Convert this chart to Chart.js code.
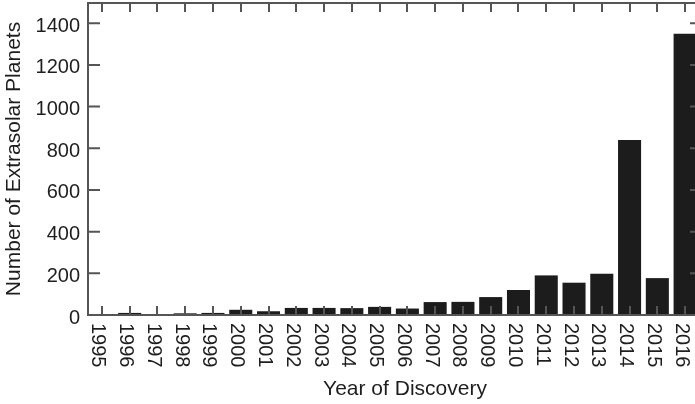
<!DOCTYPE html>
<html>
<head>
<meta charset="utf-8">
<script src="https://cdn.jsdelivr.net/npm/chart.js@4"></script>
<style>
  html, body { margin: 0; padding: 0; background: #ffffff; overflow: hidden; width: 695px; height: 404px; }
  canvas { display: block; }
</style>
</head>
<body>
<canvas id="chart" width="699" height="404"></canvas>
<script>
// Discoveries per year
const years = ['1995','1996','1997','1998','1999','2000','2001','2002','2003','2004','2005',
               '2006','2007','2008','2009','2010','2011','2012','2013','2014','2015','2016'];
const planets = [3, 10, 1, 8, 10, 25, 18, 34, 34, 33, 39,
                 31, 62, 63, 86, 120, 190, 155, 198, 840, 177, 1350];
const yTicks = [0, 200, 400, 600, 800, 1000, 1200, 1400];

const FONT = '"Liberation Sans", Arial, Helvetica, sans-serif';
const TEXT = '#1e1e1e';
const AXIS = '#555555';

// Boxed frame with inward tick marks on all four sides, plus rotated year labels
const framePlugin = {
  id: 'frame',
  afterDatasetsDraw(chart) {
    const { ctx, chartArea: a, scales: { x, y } } = chart;
    ctx.save();
    ctx.strokeStyle = AXIS;
    ctx.lineWidth = 2;
    ctx.beginPath();
    x.ticks.forEach((t, i) => {
      const px = Math.round(x.getPixelForTick(i));
      ctx.moveTo(px, a.top); ctx.lineTo(px, a.top + 9);
      ctx.moveTo(px, a.bottom); ctx.lineTo(px, a.bottom - 9);
    });
    y.ticks.forEach((t, i) => {
      const py = y.getPixelForTick(i);
      ctx.moveTo(a.left, py); ctx.lineTo(a.left + 12, py);
      ctx.moveTo(a.right, py); ctx.lineTo(a.right - 9, py);
    });
    ctx.stroke();
    ctx.strokeRect(a.left, a.top, a.right - a.left, a.bottom - a.top);

    ctx.fillStyle = TEXT;
    ctx.font = '20px ' + FONT;
    ctx.textAlign = 'left';
    ctx.textBaseline = 'middle';
    x.ticks.forEach((t, i) => {
      const px = x.getPixelForTick(i);
      ctx.save();
      ctx.translate(px - 4, a.bottom + 8);
      ctx.rotate(Math.PI / 2);
      ctx.fillText(years[i], 0, 0);
      ctx.restore();
    });

    ctx.font = '21px ' + FONT;
    ctx.textAlign = 'center';
    ctx.fillText('Year of Discovery', 405, 389);
    ctx.restore();
  }
};

new Chart(document.getElementById('chart'), {
  type: 'bar',
  data: {
    labels: years,
    datasets: [{
      data: planets,
      backgroundColor: '#1c1c1c',
      borderWidth: 0,
      categoryPercentage: 1,
      barPercentage: 0.83
    }]
  },
  options: {
    responsive: false,
    animation: false,
    devicePixelRatio: 1,
    layout: { padding: { top: 3, right: 0, bottom: 0, left: 0 } },
    plugins: { legend: { display: false }, tooltip: { enabled: false } },
    scales: {
      x: {
        grid: { display: false, drawTicks: false },
        border: { display: false },
        ticks: { display: false },
        afterFit(s) { s.height = 89; s.paddingLeft = 0; s.paddingRight = 0; }
      },
      y: {
        min: 0,
        max: 1497,
        grid: { display: false, drawTicks: false },
        border: { display: false },
        ticks: {
          color: TEXT,
          font: { family: FONT, size: 20 },
          padding: 8,
          labelOffset: 3,
          callback: v => String(v)
        },
        afterBuildTicks(s) { s.ticks = yTicks.map(v => ({ value: v })); },
        afterFit(s) { s.width = 88; s.paddingTop = 0; s.paddingBottom = 0; },
        title: {
          display: true,
          text: 'Number of Extrasolar Planets',
          color: TEXT,
          font: { family: FONT, size: 21 },
          padding: { top: 2, bottom: 0 }
        }
      }
    }
  },
  plugins: [framePlugin]
});
</script>
</body>
</html>
